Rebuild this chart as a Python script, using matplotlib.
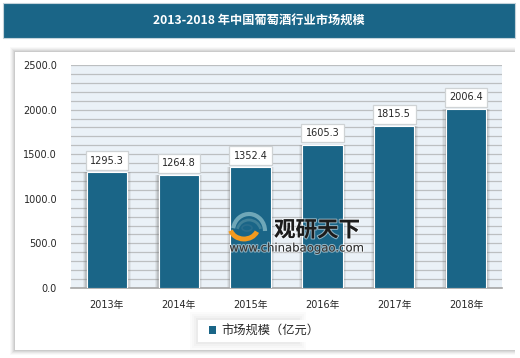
#!/usr/bin/python3

import matplotlib
matplotlib.use('Agg')
import matplotlib.pyplot as plt
from matplotlib.patches import Rectangle, Arc, Ellipse
import matplotlib.patheffects as pe

plt.rcParams['font.family'] = ['DejaVu Sans', 'Noto Sans CJK SC']

years = ["2013年", "2014年", "2015年", "2016年", "2017年", "2018年"]
market_size = [1295.3, 1264.8, 1352.4, 1605.3, 1815.5, 2006.4]
yticks = [0, 500, 1000, 1500, 2000, 2500]
minor_ticks = list(range(0, 2600, 100))
title = "2013-2018 年中国葡萄酒行业市场规模"
series_name = "市场规模（亿元）"

W, H = 520, 358
BLUE = "#1a6587"

fig = plt.figure(figsize = (W / 100, H / 100), dpi = 100)

# background layer in pixel coords, y pointing down
bg = fig.add_axes([0, 0, 1, 1], zorder = 0)
bg.set_xlim(0, W)
bg.set_ylim(H, 0)
bg.axis("off")

bg.add_patch(Rectangle((3, 3), 512, 35, fc = BLUE, ec = "#c4d3db", lw = 0.8))

# panel shadow
for i, a in zip([5, 4, 3, 2, 1], [0.05, 0.08, 0.12, 0.16, 0.22]):
	bg.add_patch(Rectangle((15 - i, 52 - i), 520, 298 + 2 * i, fc = "#9a9a9a", ec = "none", alpha = a))
bg.add_patch(Rectangle((15, 52), 510, 298, fc = "white", ec = "none"))
# shadow stops short of the page edge
bg.add_patch(Rectangle((515, 40), 5, 318, fc = "white", ec = "none"))

ax = fig.add_axes([71 / W, 1 - 288 / H, 431 / W, 223 / H], zorder = 1)
ax.set_facecolor("#eaf1f7")
xs = list(range(len(years)))
ax.set_xlim(-0.5, len(years) - 0.5)
ax.set_ylim(0, 2500)
ax.set_yticks(minor_ticks, minor = True)
ax.set_yticks(yticks, ["%.1f" % v for v in yticks])
ax.set_xticks(xs, years)
ax.grid(axis = "y", which = "both", color = "#bcbfc1", lw = 0.9)
ax.set_axisbelow(True)
ax.tick_params(which = "both", length = 0)
ax.tick_params(axis = "both", labelsize = 7, labelcolor = "#262626")
ax.tick_params(axis = "x", pad = 8.5)
ax.tick_params(axis = "y", pad = 10)
for side in ["top", "right", "left"]:
	ax.spines[side].set_visible(False)
ax.spines["bottom"].set_color("#a6a6a6")
ax.spines["bottom"].set_linewidth(1.2)

# soft shadow round the bars
for w, a in zip([0.66, 0.63, 0.60], [0.10, 0.14, 0.22]):
	ax.bar(xs, market_size, width = w, color = "#777777", alpha = a, zorder = 2)
bars = ax.bar(xs, market_size, width = 0.56, color = BLUE, edgecolor = "white",
	linewidth = 0.8, zorder = 3, label = series_name)

for x, v in zip(xs, market_size):
	ax.annotate("%.1f" % v, (x, v), xytext = (0, 8.5), textcoords = "offset points",
		ha = "center", va = "center", fontsize = 7, color = "#262626", zorder = 5,
		bbox = dict(boxstyle = "square,pad=0.45", fc = "white", ec = "#cfd3d5", lw = 0.9))

# top layer for the title, legend and watermark
top = fig.add_axes([0, 0, 1, 1], zorder = 2)
top.set_xlim(0, W)
top.set_ylim(H, 0)
top.axis("off")
top.patch.set_alpha(0)

top.text(259, 20, title, ha = "center", va = "center", color = "white", fontsize = 8.8,
	fontweight = "bold", family = ["Noto Sans CJK SC", "DejaVu Sans"])

# legend shadow, fades out to the right
for i, a in zip([8, 6, 4, 2], [0.03, 0.04, 0.05, 0.07]):
	top.add_patch(Rectangle((198 - i, 320 - i), 100 + 2 * i, 22 + 2 * i, fc = "#999999", ec = "none", alpha = a))
top.add_patch(Rectangle((198, 320), 135, 22, fc = "white", ec = "none"))
leg = fig.legend(handles = [bars], labels = [series_name], loc = "center",
	bbox_to_anchor = (264 / W, 1 - 331 / H), frameon = False, fontsize = 8.8,
	handlelength = 0.6, handleheight = 0.6, handletextpad = 0.4, labelcolor = "#262626")
leg.set_zorder(10)
leg.legend_handles[0].set_edgecolor("none")

# watermark logo
top.add_patch(Arc((249, 231), 32, 34, theta1 = 190, theta2 = 360, ec = "#6fa7b8", lw = 3))
top.add_patch(Arc((249, 232), 24, 24, theta1 = 195, theta2 = 345, ec = "#3f8098", lw = 2))
top.add_patch(Arc((244, 227), 28, 24, theta1 = 20, theta2 = 165, ec = "#f39a1e", lw = 3.5))
top.add_patch(Ellipse((247, 228), 10, 6, fc = "none", ec = "#2a6d8c", lw = 1.2))
halo = [pe.withStroke(linewidth = 1.5, foreground = "#ffffff80")]
top.text(317, 230, "观研天下", ha = "center", va = "center", color = "#1c1c1c", fontsize = 15.5,
	fontweight = "bold", family = ["Noto Sans CJK SC", "DejaVu Sans"], path_effects = halo)
top.text(296.5, 248, "www.chinabaogao.com", ha = "center", va = "center", color = "#333333",
	fontsize = 8.4, path_effects = halo)

fig.savefig("out.png", dpi = 100)
